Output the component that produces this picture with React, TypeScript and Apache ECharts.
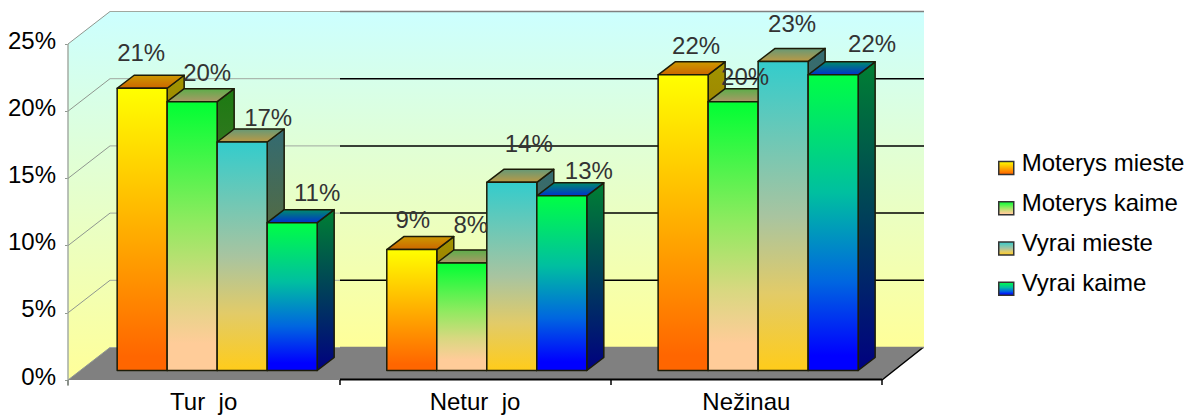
import React, { useEffect, useRef } from "react";
import * as echarts from "echarts";

const categories = ["Tur  jo", "Netur  jo", "Nežinau"];
const seriesNames = ["Moterys mieste", "Moterys kaime", "Vyrai mieste", "Vyrai kaime"];
const moterysMieste = [21, 9, 22];
const moterysKaime = [20, 8, 20];
const vyraiMieste = [17, 14, 23];
const vyraiKaime = [11, 13, 22];
const seriesValues = [moterysMieste, moterysKaime, vyraiMieste, vyraiKaime];
const yTicks = [0, 5, 10, 15, 20, 25];

const FONT = "Liberation Sans, Arial, sans-serif";
const FONT_SIZE = 24;
const gradStops = (stops: [number, string][]) =>
  new echarts.graphic.LinearGradient(
    0,
    0,
    0,
    1,
    stops.map(([offset, color]) => ({ offset, color }))
  );
const grad = (a: string, b: string) =>
  gradStops([
    [0, a],
    [1, b],
  ]);
const frontStops: [number, string][][] = [
  [
    [0, "#ffff00"],
    [0.95, "#ff6600"],
    [1, "#ff6600"],
  ],
  [
    [0, "#00ff33"],
    [0.45, "#90ea60"],
    [0.7, "#d8d880"],
    [0.9, "#ffcc99"],
    [1, "#ffcc99"],
  ],
  [
    [0, "#33cccc"],
    [0.5, "#a8c4a0"],
    [0.75, "#e2cb68"],
    [1, "#ffcc1a"],
  ],
  [
    [0, "#00ff44"],
    [0.4, "#00bfa0"],
    [0.7, "#0066e0"],
    [0.95, "#0000ff"],
    [1, "#0000ff"],
  ],
];
const sideStops = [
  ["#a09400", "#993d00"],
  ["#1c7a12", "#807050"],
  ["#336b72", "#806a00"],
  ["#008033", "#000080"],
];
const topStops = [
  ["#cc9900", "#cc6600"],
  ["#5cad4a", "#aa9966"],
  ["#669977", "#bb9944"],
  ["#008c6c", "#0033cc"],
];
// label placement relative to the bar's top centre, per series then category
const labelNudge = [
  [[-1, -36], [1, -30], [13, -29]],
  [[15, -29], [9, -38], [12, -25]],
  [[26, -25], [17, -39], [9, -38]],
  [[25, -30], [27, -25], [39, -31]],
];
const groupShift = [1, -0.7, -0.7];

const WALL_DX = 42;
const WALL_DY = -32.5;
const BAR_DX = 17;
const BAR_DY = -13;
const BAR_FRACTION = 50 / 271.3;
const BAR_SHIFT_X = 12.5;
const BAR_SHIFT_Y = -9.5;
const BLACK_FROM = 340;

const frameRender = (params: any, api: any) => {
  const c = params.coordSys;
  const v = api.value(1);
  const y = api.coord([0, v])[1];
  const x0 = c.x;
  const x1 = c.x + c.width;
  const bottom = c.y + c.height;
  const children: any[] = [];
  if (params.dataIndex === 0) {
    const wall = grad("#ccffff", "#ffff99");
    children.push({
      type: "polygon",
      shape: {
        points: [
          [x0 + WALL_DX, c.y + WALL_DY],
          [x1 + WALL_DX, c.y + WALL_DY],
          [x1 + WALL_DX, bottom + WALL_DY],
          [x0 + WALL_DX, bottom + WALL_DY],
        ],
      },
      style: { fill: wall },
    });
    children.push({
      type: "polygon",
      shape: {
        points: [
          [x0, c.y],
          [x0 + WALL_DX, c.y + WALL_DY],
          [x0 + WALL_DX, bottom + WALL_DY],
          [x0, bottom],
        ],
      },
      style: { fill: wall },
    });
    children.push({
      type: "polygon",
      shape: {
        points: [
          [x0, bottom],
          [x0 + WALL_DX, bottom + WALL_DY],
          [x1 + WALL_DX, bottom + WALL_DY],
          [x1, bottom],
        ],
      },
      style: { fill: "#808080" },
    });
    children.push({
      type: "line",
      shape: { x1: x0, y1: c.y, x2: x0, y2: bottom + 6 },
      style: { stroke: "#a4aca4", lineWidth: 1.5 },
    });
    children.push({
      type: "line",
      shape: { x1: BLACK_FROM, y1: bottom - 0.5, x2: x1, y2: bottom - 0.5 },
      style: { stroke: "#000", lineWidth: 2 },
    });
    children.push({
      type: "line",
      shape: { x1: x1, y1: bottom, x2: x1 + WALL_DX - 1, y2: bottom + WALL_DY },
      style: { stroke: "#000", lineWidth: 1.5 },
    });
  }
  const isEdge = v === 25 || v === 0;
  children.push({
    type: "line",
    shape: { x1: x0, y1: y, x2: x0 + WALL_DX, y2: y + WALL_DY },
    style: { stroke: "#8f978f", lineWidth: 1 },
  });
  children.push({
    type: "line",
    shape: { x1: x0 + WALL_DX, y1: y + WALL_DY, x2: BLACK_FROM, y2: y + WALL_DY },
    style: { stroke: "#a0a8a0", lineWidth: 1 },
  });
  children.push({
    type: "line",
    shape: { x1: BLACK_FROM, y1: y + WALL_DY, x2: x1 + WALL_DX, y2: y + WALL_DY },
    style: isEdge
      ? { stroke: "#808080", lineWidth: 1.5 }
      : { stroke: "#000", lineWidth: 1.5 },
  });
  return { type: "group", children };
};

const barRender = (seriesIdx: number) => (params: any, api: any) => {
  const cat = api.value(0);
  const val = api.value(1);
  const top = api.coord([cat, val]);
  const base = api.coord([cat, 0]);
  const w = api.size([1, 0])[0] * BAR_FRACTION;
  const left = top[0] + BAR_SHIFT_X + groupShift[cat] + (seriesIdx - 2) * w;
  const right = left + w;
  const yT = top[1] + BAR_SHIFT_Y;
  const yB = base[1] + BAR_SHIFT_Y;
  const edge = { stroke: "#1c1c08", lineWidth: 1.5, lineJoin: "round" };
  const nudge = labelNudge[seriesIdx][cat];
  return {
    type: "group",
    children: [
      {
        type: "polygon",
        shape: {
          points: [
            [right, yT],
            [right + BAR_DX, yT + BAR_DY],
            [right + BAR_DX, yB + BAR_DY],
            [right, yB],
          ],
        },
        style: { fill: grad(sideStops[seriesIdx][0], sideStops[seriesIdx][1]), ...edge },
      },
      {
        type: "polygon",
        shape: {
          points: [
            [left, yT],
            [left + BAR_DX, yT + BAR_DY],
            [right + BAR_DX, yT + BAR_DY],
            [right, yT],
          ],
        },
        style: { fill: grad(topStops[seriesIdx][0], topStops[seriesIdx][1]), ...edge },
      },
      {
        type: "rect",
        shape: { x: left, y: yT, width: w, height: yB - yT },
        style: { fill: gradStops(frontStops[seriesIdx]), ...edge },
      },
      {
        type: "text",
        z2: 100,
        style: {
          text: val + "%",
          x: (left + right) / 2 + nudge[0],
          y: yT + nudge[1],
          align: "center",
          verticalAlign: "middle",
          fontSize: FONT_SIZE,
          fontFamily: FONT,
          fill: "#333333",
        },
      },
    ],
  };
};

export default function App() {
  const ref = useRef<HTMLDivElement>(null);
  useEffect(() => {
    const chart = echarts.init(ref.current!, undefined, { renderer: "svg" });
    chart.setOption({
      animation: false,
      backgroundColor: "#ffffff",
      grid: { left: 68, top: 44, width: 814, height: 336, containLabel: false },
      legend: {
        orient: "vertical",
        left: 998,
        top: 150,
        padding: 0,
        data: seriesNames,
        icon: "rect",
        itemWidth: 15,
        itemHeight: 13,
        itemGap: 15,
        selectedMode: false,
        itemStyle: { borderColor: "#333333", borderWidth: 1.5 },
        formatter: (name: string) => `{a|${name}}`,
        textStyle: {
          rich: {
            a: {
              fontSize: FONT_SIZE,
              fontFamily: FONT,
              color: "#000",
              padding: [0, 0, 12, 3],
            },
          },
        },
      },
      xAxis: {
        type: "category",
        data: categories,
        axisLine: { show: false },
        axisTick: { show: true, length: 5, lineStyle: { color: "#000", width: 1.5 } },
        axisLabel: { fontSize: FONT_SIZE, fontFamily: FONT, color: "#000", margin: 9 },
        splitLine: { show: false },
      },
      yAxis: {
        type: "value",
        min: 0,
        max: 25,
        interval: 5,
        axisLine: { show: false },
        axisTick: { show: true, length: 3, lineStyle: { color: "#909890", width: 1 } },
        splitLine: { show: false },
        axisLabel: {
          formatter: (v: number) => `{a|${v}%}`,
          margin: 12,
          rich: {
            a: {
              fontSize: FONT_SIZE,
              fontFamily: FONT,
              color: "#000",
              padding: [0, 0, 8, 0],
            },
          },
        },
      },
      series: [
        {
          name: "frame",
          type: "custom",
          z: 1,
          silent: true,
          renderItem: frameRender,
          data: yTicks.map((t) => [0, t]),
          encode: { x: 0, y: 1 },
        },
        ...seriesNames.map((name, i) => ({
          name,
          type: "custom",
          z: 2,
          renderItem: barRender(i),
          itemStyle: { color: gradStops(frontStops[i]) },
          data: seriesValues[i].map((v, c) => [c, v]),
          encode: { x: 0, y: 1 },
        })),
      ],
    });
    return () => chart.dispose();
  }, []);
  return (
    <div
      ref={ref}
      style={{ position: "absolute", left: 0, top: 0, width: 1189, height: 415 }}
    />
  );
}
